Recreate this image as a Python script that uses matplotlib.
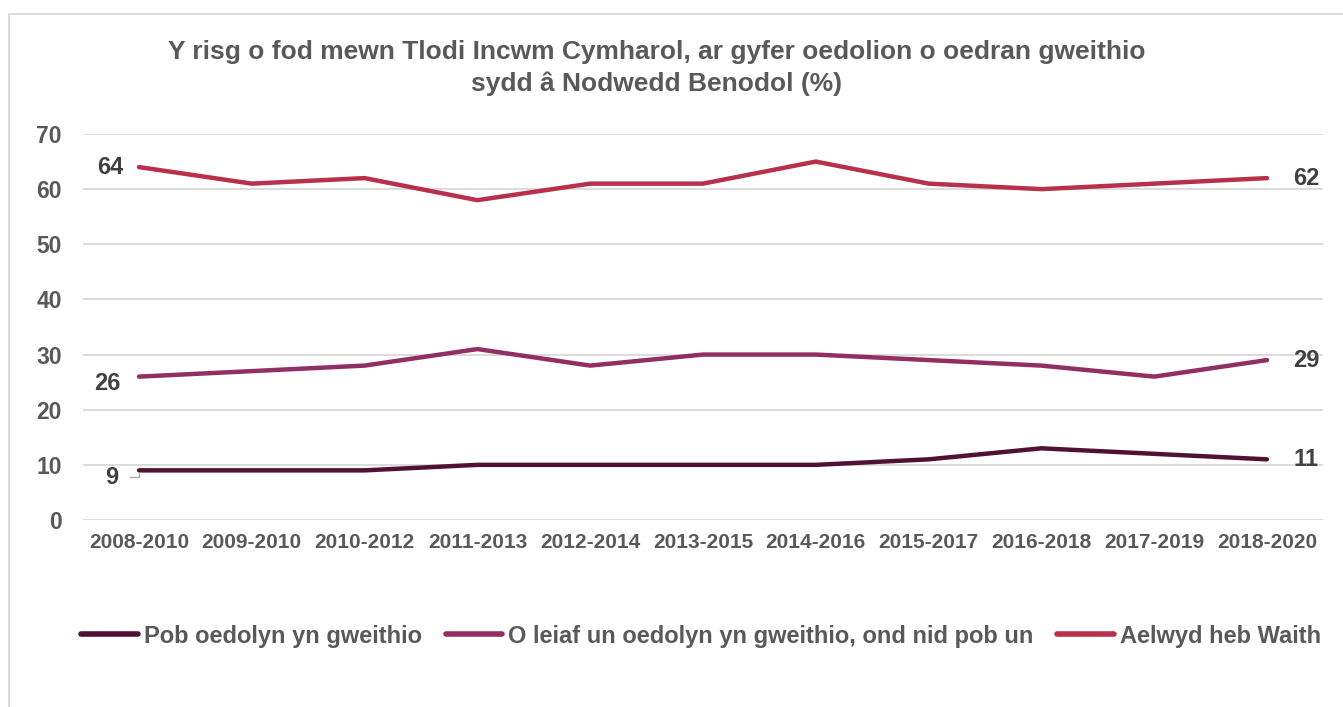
import matplotlib
matplotlib.use("Agg")
import matplotlib.pyplot as plt
from matplotlib.patches import Rectangle

categories = ["2008-2010", "2009-2010", "2010-2012", "2011-2013", "2012-2014", "2013-2015",
              "2014-2016", "2015-2017", "2016-2018", "2017-2019", "2018-2020"]
pob = [9, 9, 9, 10, 10, 10, 10, 11, 13, 12, 11]
oleiaf = [26, 27, 28, 31, 28, 30, 30, 29, 28, 26, 29]
aelwyd = [64, 61, 62, 58, 61, 61, 65, 61, 60, 61, 62]
series_names = ["Pob oedolyn yn gweithio", "O leiaf un oedolyn yn gweithio, ond nid pob un", "Aelwyd heb Waith"]
colors = ["#4f1234", "#912f62", "#b8304b"]
title = "Y risg o fod mewn Tlodi Incwm Cymharol, ar gyfer oedolion o oedran gweithio\nsydd â Nodwedd Benodol (%)"

plt.rcParams['font.family'] = ['Liberation Sans', 'DejaVu Sans']
plt.rcParams['font.weight'] = 'bold'

W, H = 1343, 707
fig = plt.figure(figsize=(W / 100, H / 100), dpi=100)
fig.patches.append(Rectangle((9 / W, -0.1), 1.2, 1 - 14 / H + 0.1, transform=fig.transFigure,
                             fill=False, edgecolor="#d9d9d9", linewidth=1.3))

ax = fig.add_axes([82.6 / W, 1 - 520 / H, (1323.4 - 82.6) / W, (520 - 134) / H])
x = list(range(len(categories)))
for vals, col, name in zip([pob, oleiaf, aelwyd], colors, series_names):
    ax.plot(x, vals, color=col, linewidth=3.2, solid_capstyle='round', solid_joinstyle='round', label=name)

ax.set_xlim(-0.5, len(categories) - 0.5)
ax.set_ylim(0, 70)
ax.set_yticks(range(0, 71, 10))
ax.set_xticks(x)
ax.set_xticklabels(categories)
for s in ax.spines.values():
    s.set_visible(False)
ax.grid(axis='y', color="#d9d9d9", linewidth=1.3)
ax.set_axisbelow(True)
ax.tick_params(length=0, labelcolor="#595959")
ax.tick_params(axis='x', pad=9, labelsize=15)
ax.tick_params(axis='y', pad=15, labelsize=16.5)

lab_kw = dict(color="#404040", fontsize=17, fontweight='bold')
# start labels
ax.annotate(str(aelwyd[0]), (x[0], aelwyd[0]), xytext=(-21, 0), textcoords='offset points',
            ha='center', va='center', **lab_kw)
ax.annotate(str(oleiaf[0]), (x[0], oleiaf[0]), xytext=(-23, -5), textcoords='offset points',
            ha='center', va='center', **lab_kw)
ax.annotate(str(pob[0]), (x[0], pob[0]), xytext=(-20, -5), textcoords='offset points',
            ha='center', va='center',
            arrowprops=dict(arrowstyle='-', color="#a6a6a6", lw=1, shrinkA=7, shrinkB=1,
                            connectionstyle="angle,angleA=0,angleB=90,rad=0"), **lab_kw)
# end labels
for vals in [aelwyd, oleiaf, pob]:
    ax.annotate(str(vals[-1]), (x[-1], vals[-1]), xytext=(28, 0), textcoords='offset points',
                ha='center', va='center', **lab_kw)

fig.text(657 / W, 1 - 68 / H, title, ha='center', va='center', color="#595959",
         fontsize=19, fontweight='bold', linespacing=1.4)

leg = fig.legend(loc='center', bbox_to_anchor=(0.522, 1 - 636 / H), ncol=3, frameon=False,
                 fontsize=17, handlelength=2.4, handletextpad=0.25, columnspacing=1.0)
for t in leg.get_texts():
    t.set_color("#595959")
for l in leg.get_lines():
    l.set_solid_capstyle('round')
    l.set_linewidth(4)

fig.savefig("out.png", dpi=100)
